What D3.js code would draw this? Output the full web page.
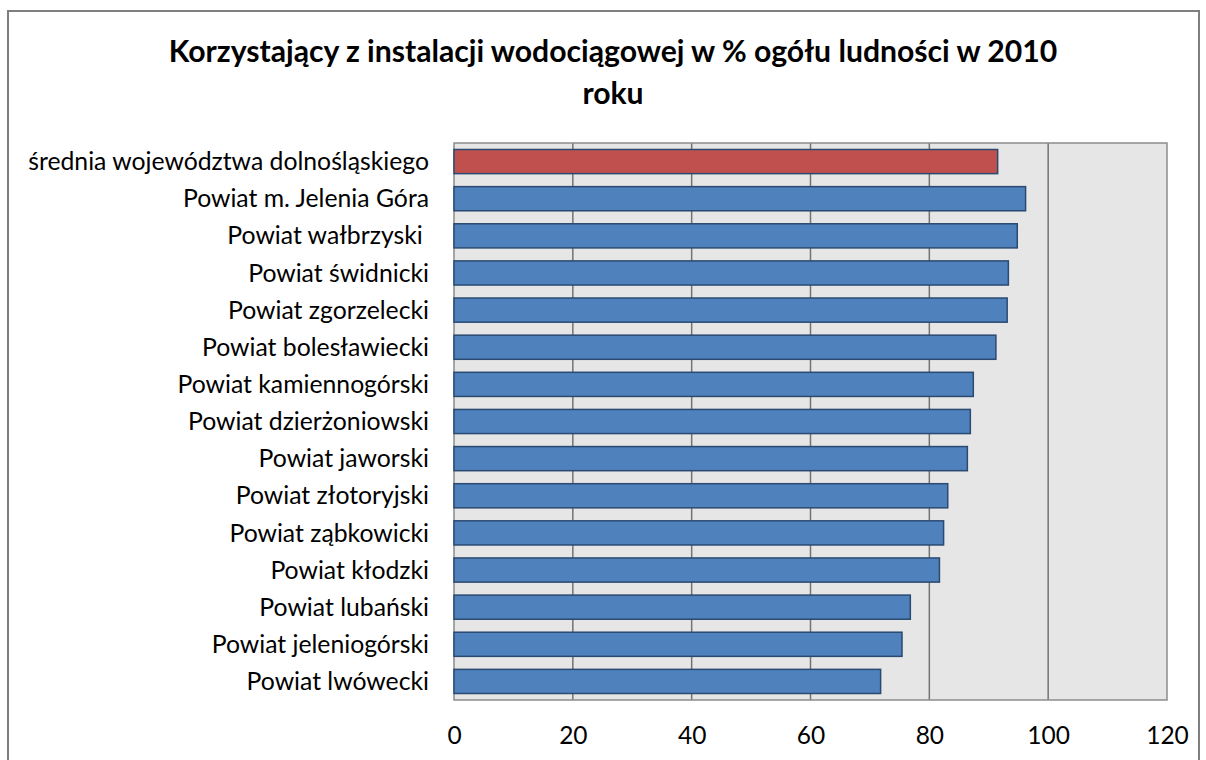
<!DOCTYPE html>
<html>
<head>
<meta charset="utf-8">
<script src="https://cdn.jsdelivr.net/npm/d3@7"></script>
<style>
  body { margin: 0; background: #fff; }
  text { font-family: Lato, "Open Sans", sans-serif; fill: #000; white-space: pre; }
</style>
</head>
<body>
<script>
var width = 1206,
    height = 760;

// data
var categories = [
  "średnia województwa dolnośląskiego",
  "Powiat m. Jelenia Góra",
  "Powiat wałbrzyski ",
  "Powiat świdnicki",
  "Powiat zgorzelecki",
  "Powiat bolesławiecki",
  "Powiat kamiennogórski",
  "Powiat dzierżoniowski",
  "Powiat jaworski",
  "Powiat złotoryjski",
  "Powiat ząbkowicki",
  "Powiat kłodzki",
  "Powiat lubański",
  "Powiat jeleniogórski",
  "Powiat lwówecki"
];
var values = [91.5, 96.2, 94.8, 93.3, 93.1, 91.2, 87.4, 86.9, 86.4, 83.1, 82.4, 81.7, 76.8, 75.4, 71.8];
var xTicks = [0, 20, 40, 60, 80, 100, 120];
var titleLines = ["Korzystający z instalacji wodociągowej w % ogółu ludności w 2010", "roku"];

var plot = { left: 454, right: 1167, top: 143, bottom: 700 };

var svg = d3.select("body").append("svg")
    .attr("width", width)
    .attr("height", height);

// chart frame
svg.append("rect")
    .attr("x", 8).attr("y", 11)
    .attr("width", 1191).attr("height", 780)
    .attr("fill", "#fff")
    .attr("stroke", "#7f7f7f")
    .attr("stroke-width", 2);

var x = d3.scaleLinear().domain([0, 120]).range([plot.left, plot.right]);
var y = d3.scaleBand().domain(categories).range([plot.top, plot.bottom]).paddingInner(0.35).paddingOuter(0.175);

// fit text to a target width by adjusting font size
function fit(sel, target) {
  sel.each(function() {
    var t = d3.select(this);
    var fs = parseFloat(t.attr("font-size"));
    var w = this.getComputedTextLength();
    t.attr("font-size", fs * target / w);
  });
}

svg.append("rect")
    .attr("x", plot.left).attr("y", plot.top)
    .attr("width", plot.right - plot.left).attr("height", plot.bottom - plot.top)
    .attr("fill", "#e6e6e6");

svg.selectAll(".grid")
  .data(xTicks.slice(1, -1))
  .enter().append("line")
    .attr("class", "grid")
    .attr("x1", function(d) { return x(d); })
    .attr("x2", function(d) { return x(d); })
    .attr("y1", plot.top).attr("y2", plot.bottom)
    .attr("stroke", "#737373")
    .attr("stroke-width", 1.5);

svg.append("rect")
    .attr("x", plot.left).attr("y", plot.top)
    .attr("width", plot.right - plot.left).attr("height", plot.bottom - plot.top)
    .attr("fill", "none")
    .attr("stroke", "#8c8c8c")
    .attr("stroke-width", 1.5);

// bars
svg.selectAll(".bar")
  .data(values)
  .enter().append("rect")
    .attr("class", "bar")
    .attr("x", x(0))
    .attr("y", function(d, i) { return y(categories[i]); })
    .attr("width", function(d) { return x(d) - x(0); })
    .attr("height", y.bandwidth())
    .attr("fill", function(d, i) { return i === 0 ? "#c0504d" : "#4f81bd"; })
    .attr("stroke", "#2a4a72")
    .attr("stroke-width", 1.5);

// category labels
svg.selectAll(".cat")
  .data(categories)
  .enter().append("text")
    .attr("class", "cat")
    .attr("x", 429)
    .attr("y", function(d) { return y(d) + y.bandwidth() / 2; })
    .attr("dy", "0.35em")
    .attr("text-anchor", "end")
    .attr("font-size", 20)
    .text(function(d) { return d; });

var firstLabel = svg.select(".cat");
fit(firstLabel, 401);
svg.selectAll(".cat").attr("font-size", firstLabel.attr("font-size"));

// x axis labels
var xAxis = d3.axisBottom(x).tickValues(xTicks).tickSize(0).tickPadding(0);
var ax = svg.append("g")
    .attr("transform", "translate(0," + 744 + ")")
    .call(xAxis);
ax.select(".domain").remove();
ax.selectAll("text")
    .style("font-size", "24.5px")
    .attr("dy", "0")
    .style("font-family", "Lato, 'Open Sans', sans-serif")
    .attr("fill", "#000");

// title
var title = svg.selectAll(".title")
  .data(titleLines)
  .enter().append("text")
    .attr("class", "title")
    .attr("x", 613)
    .attr("y", function(d, i) { return 62 + i * 42; })
    .attr("text-anchor", "middle")
    .attr("font-weight", "bold")
    .attr("font-size", 22)
    .text(function(d) { return d; });

var t0 = svg.select(".title");
fit(t0, 889);
title.attr("font-size", t0.attr("font-size"));
</script>
</body>
</html>
